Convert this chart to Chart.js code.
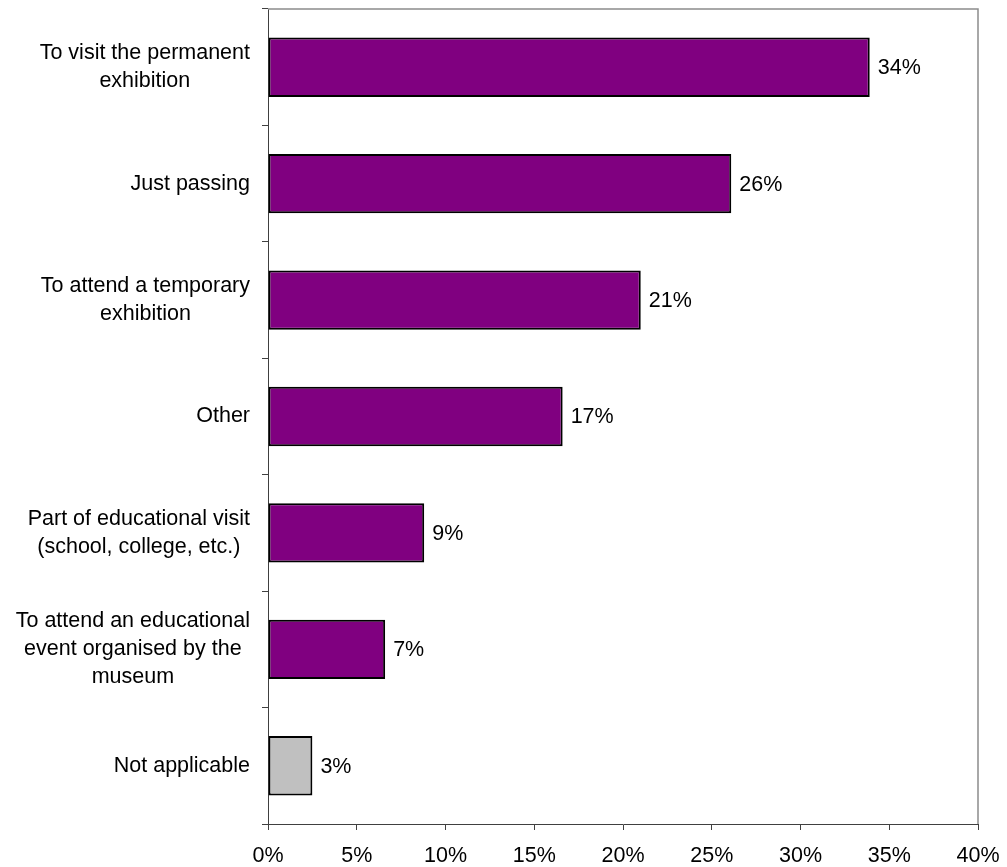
<!DOCTYPE html>
<html>
<head>
<meta charset="utf-8">
<title>Reasons for visiting</title>
<script src="https://cdn.jsdelivr.net/npm/chart.js@4/dist/chart.umd.min.js"></script>
<style>
    html, body { margin: 0; padding: 0; background: #fff; }
    #wrap { width: 1007px; height: 867px; }
</style>
</head>
<body>
<div id="wrap"><canvas id="reasonsChart" width="1007" height="867"></canvas></div>
<script>
// Reasons given for the visit (share of respondents, %)
const categories = [
    ['To visit the permanent', 'exhibition'],
    ['Just passing'],
    ['To attend a temporary', 'exhibition'],
    ['Other'],
    ['Part of educational visit', '(school, college, etc.)'],
    ['To attend an educational', 'event organised by the', 'museum'],
    ['Not applicable']
];
const shares = [33.9, 26.1, 21.0, 16.6, 8.8, 6.6, 2.5];
const xTicks = [0, 5, 10, 15, 20, 25, 30, 35, 40];

const FONT = '"Liberation Sans", Arial, Helvetica, sans-serif';
const FONT_SIZE = 21.5;
const LINE_HEIGHT = 28;

// Category names, each block right-aligned to the axis with its lines centred
const categoryLabels = {
    id: 'categoryLabels',
    afterDraw(chart) {
        const ctx = chart.ctx;
        const yScale = chart.scales.y;
        const right = chart.chartArea.left - 18;
        ctx.save();
        ctx.font = FONT_SIZE + 'px ' + FONT;
        ctx.fillStyle = '#000';
        ctx.textAlign = 'center';
        ctx.textBaseline = 'middle';
        categories.forEach((lines, i) => {
            const y = yScale.getPixelForValue(i);
            const widest = Math.max(...lines.map(l => ctx.measureText(l).width));
            const cx = right - widest / 2;
            lines.forEach((line, j) => {
                ctx.fillText(line, cx, y + (j - (lines.length - 1) / 2) * LINE_HEIGHT);
            });
        });
        ctx.restore();
    }
};

// Value labels just past the end of each bar
const valueLabels = {
    id: 'valueLabels',
    afterDatasetsDraw(chart) {
        const ctx = chart.ctx;
        const meta = chart.getDatasetMeta(0);
        ctx.save();
        ctx.font = FONT_SIZE + 'px ' + FONT;
        ctx.fillStyle = '#000';
        ctx.textAlign = 'left';
        ctx.textBaseline = 'middle';
        meta.data.forEach((bar, i) => {
            ctx.fillText(Math.round(shares[i]) + '%', bar.x + 8, bar.y + 1);
        });
        ctx.restore();
    }
};

// Grey frame on the top and right of the plot area
const plotFrame = {
    id: 'plotFrame',
    beforeDatasetsDraw(chart) {
        const { ctx, chartArea: a } = chart;
        ctx.save();
        ctx.strokeStyle = '#8c8c8c';
        ctx.lineWidth = 1.5;
        ctx.beginPath();
        ctx.moveTo(a.left, a.top);
        ctx.lineTo(a.right, a.top);
        ctx.lineTo(a.right, a.bottom);
        ctx.stroke();
        ctx.restore();
    }
};

new Chart(document.getElementById('reasonsChart').getContext('2d'), {
    type: 'bar',
    data: {
        labels: categories.map(c => c.join(' ')),
        datasets: [{
            label: 'Share',
            data: shares,
            backgroundColor: ctx => categories[ctx.dataIndex][0] === 'Not applicable' ? '#c0c0c0' : '#800080',
            borderColor: '#000',
            borderWidth: 2,
            borderSkipped: false,
            categoryPercentage: 1,
            barPercentage: 0.51
        }]
    },
    options: {
        indexAxis: 'y',
        responsive: false,
        animation: false,
        layout: { padding: { top: 9, right: 29, left: 0, bottom: 0 } },
        plugins: {
            legend: { display: false },
            tooltip: { enabled: false }
        },
        scales: {
            x: {
                min: 0,
                max: 40,
                afterBuildTicks: scale => { scale.ticks = xTicks.map(v => ({ value: v })); },
                afterFit: scale => {
                    scale.height = 43;
                    // end labels fit inside the layout padding already
                    scale.paddingLeft = 0;
                    scale.paddingRight = 0;
                },
                border: { color: '#404040', width: 1 },
                grid: {
                    drawOnChartArea: false,
                    drawTicks: true,
                    tickLength: 6,
                    tickColor: '#404040'
                },
                ticks: {
                    color: '#000',
                    padding: 13,
                    maxRotation: 0,
                    font: { family: FONT, size: FONT_SIZE },
                    callback: v => v + '%'
                }
            },
            y: {
                afterFit: scale => { scale.width = 268; },
                border: { color: '#404040', width: 1 },
                grid: {
                    offset: true,
                    drawOnChartArea: false,
                    drawTicks: true,
                    tickLength: 6,
                    tickColor: '#404040'
                },
                ticks: { display: false }
            }
        }
    },
    plugins: [plotFrame, valueLabels, categoryLabels]
});
</script>
</body>
</html>
